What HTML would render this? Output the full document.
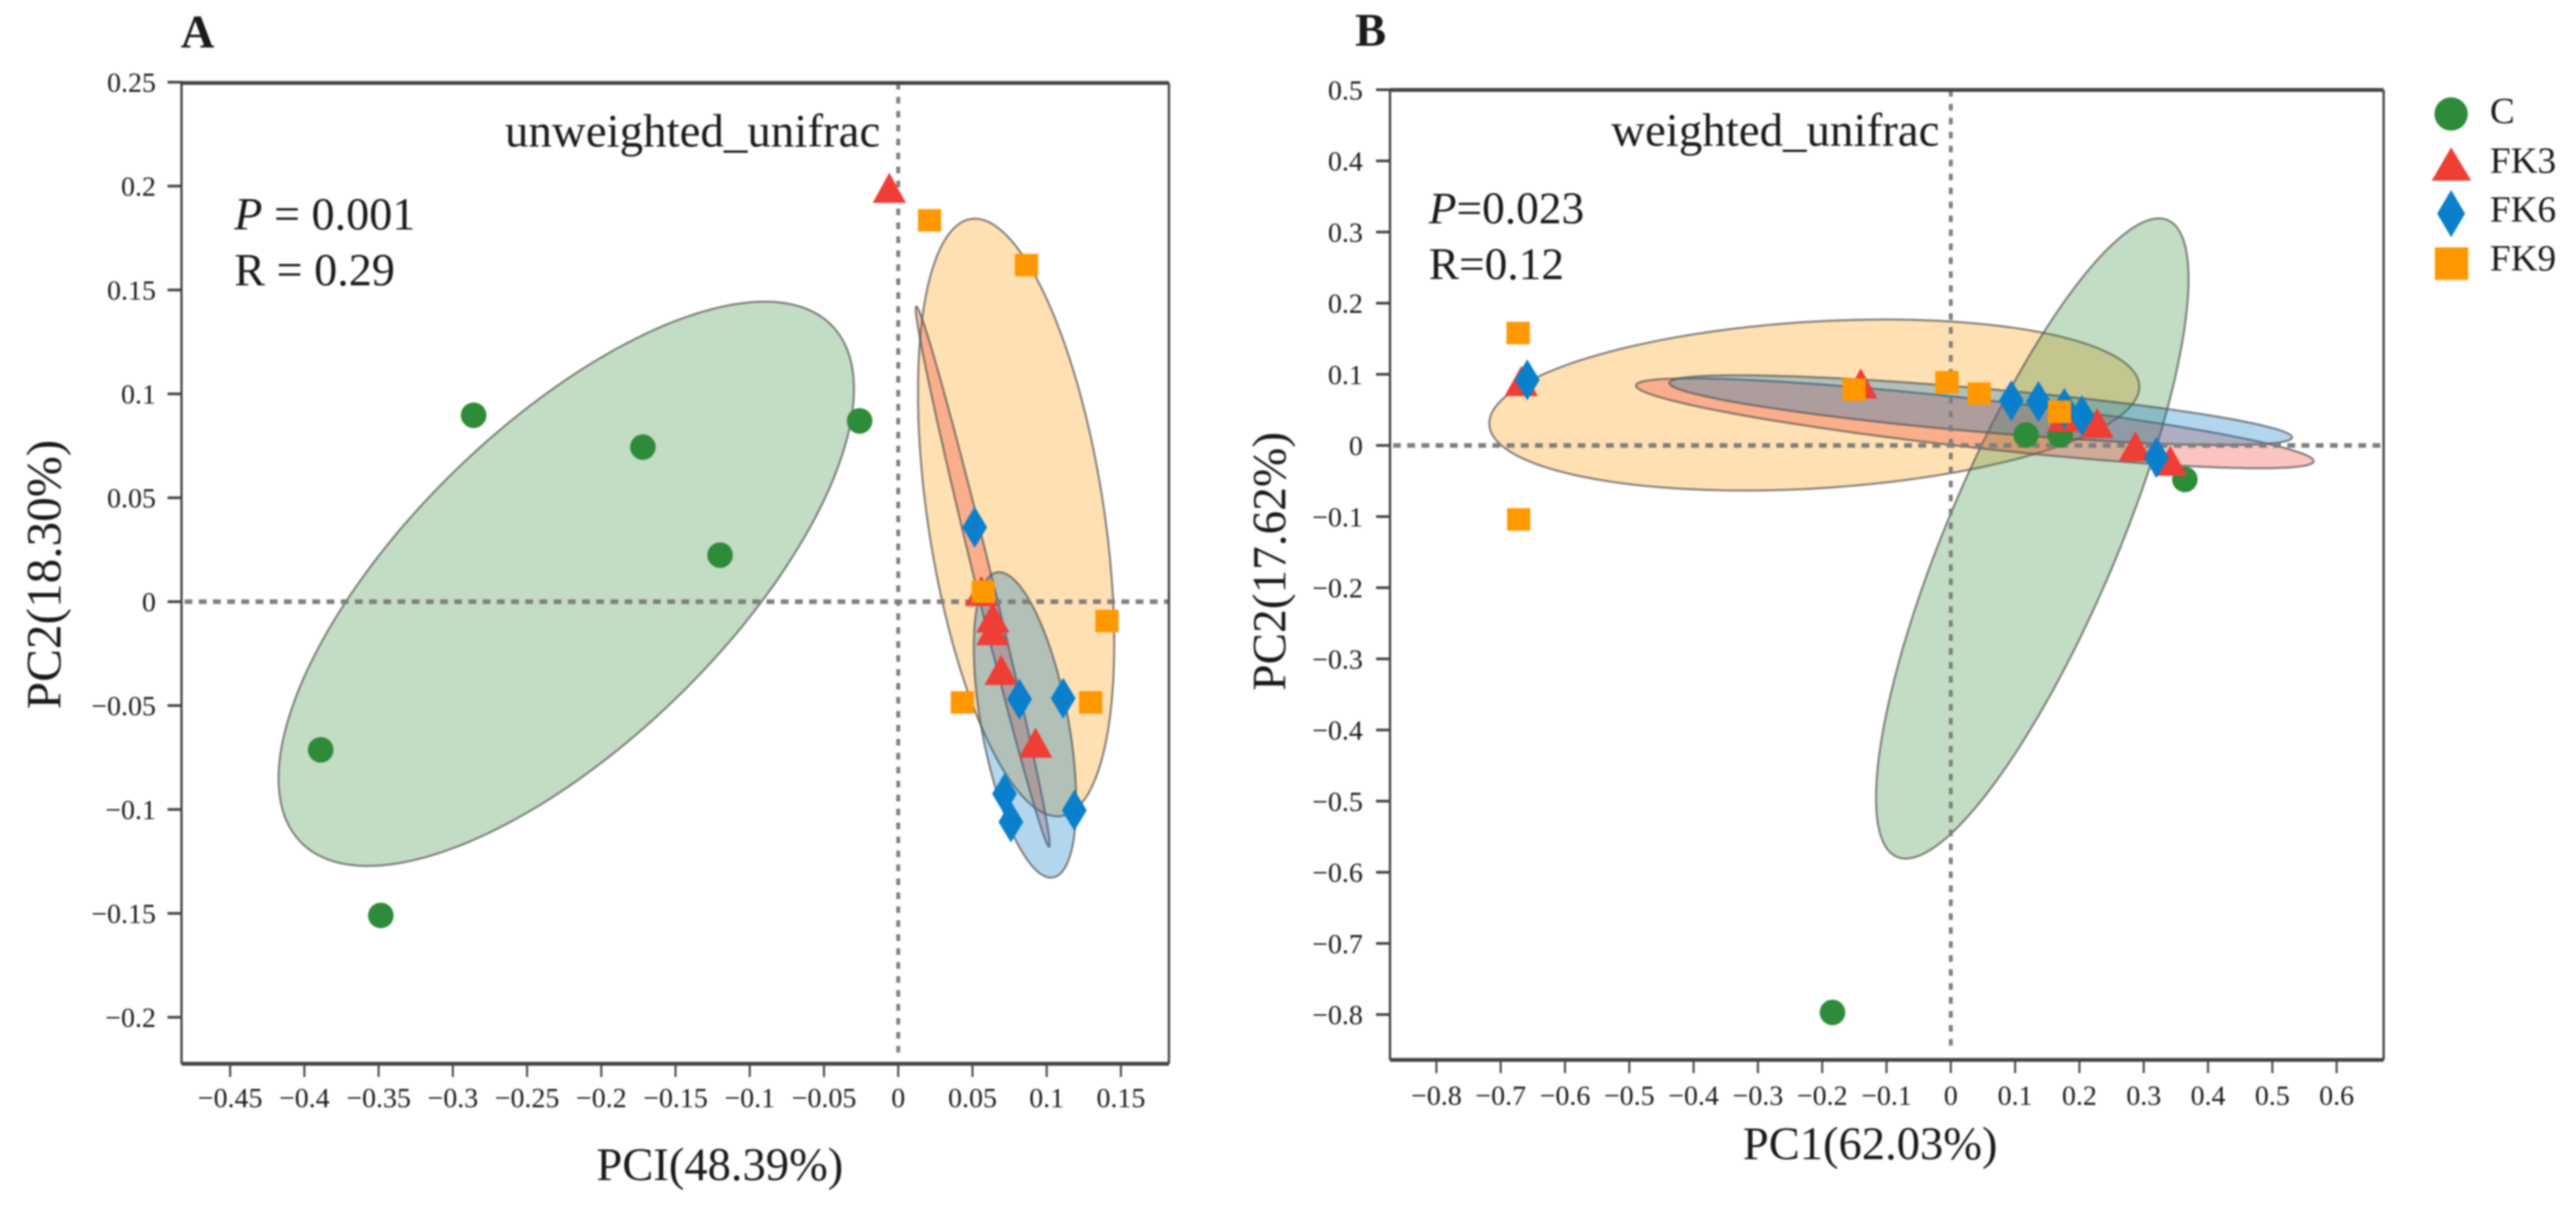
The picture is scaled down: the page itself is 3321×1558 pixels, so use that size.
<!DOCTYPE html>
<html lang="en">
<head>
<meta charset="utf-8">
<title>PCoA plots</title>
<style>
html,body{margin:0;padding:0;background:#fff;width:3321px;height:1558px;overflow:hidden}
svg{display:block;filter:blur(1.1px)}
text{font-family:"Liberation Serif",serif;fill:#1a1a1a}
</style>
</head>
<body>
<svg id="chart" xmlns="http://www.w3.org/2000/svg" width="3321" height="1558" viewBox="0 0 3321 1558">
  <rect width="3321" height="1558" fill="#fff"/>
  <g id="panelA"></g>
  <g id="panelB"></g>

  <text x="233" y="61" font-size="60" font-weight="bold">A</text>
  <text x="1747" y="59" font-size="60" font-weight="bold">B</text>

  <text x="651" y="189" font-size="60.5">unweighted_unifrac</text>
  <text x="2077" y="188" font-size="60.5">weighted_unifrac</text>

  <text x="302" y="296" font-size="59.5"><tspan font-style="italic">P</tspan> = 0.001</text>
  <text x="302" y="368" font-size="59.5">R = 0.29</text>
  <text x="1842" y="288" font-size="58.5"><tspan font-style="italic">P</tspan>=0.023</text>
  <text x="1842" y="360" font-size="58.5">R=0.12</text>

  <text x="928" y="1522" font-size="60" text-anchor="middle">PCI(48.39%)</text>
  <text x="2411" y="1495" font-size="60" text-anchor="middle">PC1(62.03%)</text>
  <text transform="translate(78 741) rotate(-90)" font-size="63.5" text-anchor="middle">PC2(18.30%)</text>
  <text transform="translate(1657 724) rotate(-90)" font-size="61" text-anchor="middle">PC2(17.62%)</text>

  <g>
    <g>
      <circle cx="3160" cy="147" r="21.5" fill="#2e8b3a"/>
      <text x="3210" y="159" font-size="48">C</text>
    </g>
    <g>
      <polygon points="3160,190 3186,233 3135,233" fill="#ee3e36"/>
      <text x="3210" y="223" font-size="48">FK3</text>
    </g>
    <g>
      <polygon points="3160,245 3178,275.5 3160,306 3142,275.5" fill="#0a7fcb"/>
      <text x="3210" y="286" font-size="48">FK6</text>
    </g>
    <g>
      <rect x="3139" y="319" width="43" height="42" fill="#ff9800"/>
      <text x="3210" y="349" font-size="48">FK9</text>
    </g>
  </g>
</svg>

<script>
// ---------- Panel A data ----------
const aXTicks = [-0.45,-0.4,-0.35,-0.3,-0.25,-0.2,-0.15,-0.1,-0.05,0,0.05,0.1,0.15];
const aXTickLabels = ["−0.45","−0.4","−0.35","−0.3","−0.25","−0.2","−0.15","−0.1","−0.05","0","0.05","0.1","0.15"];
const aYTicks = [0.25,0.2,0.15,0.1,0.05,0,-0.05,-0.1,-0.15,-0.2];
const aYTickLabels = ["0.25","0.2","0.15","0.1","0.05","0","−0.05","−0.1","−0.15","−0.2"];

const aCX = [-0.286,-0.172,-0.120,-0.026,-0.389,-0.3485];
const aCY = [0.0897,0.0744,0.0224,0.087,-0.0713,-0.151];
const aFK3X = [-0.006,0.056,0.0637,0.0637,0.0693,0.0925];
const aFK3Y = [0.199,0.005,-0.0078,-0.0139,-0.033,-0.068];
const aFK6X = [0.0515,0.0817,0.1111,0.0716,0.0759,0.1186];
const aFK6Y = [0.0358,-0.0469,-0.0465,-0.0925,-0.106,-0.1004];
const aFK9X = [0.0211,0.0864,0.0573,0.1406,0.0432,0.1296];
const aFK9Y = [0.1835,0.162,0.0048,-0.0093,-0.0485,-0.0485];

// ellipse values: centre x, centre y, half-width, half-height, correlation
const aEllipseC = [-0.2236,0.0086,0.1938,0.1358,0.69];
const aEllipseFK3 = [0.0569,0.0121,0.0451,0.13,-0.991];
const aEllipseFK6 = [0.0854,-0.0593,0.0345,0.0735,-0.507];
const aEllipseFK9 = [0.0794,0.0405,0.0661,0.1438,-0.42];

// ---------- Panel B data ----------
const bXTicks = [-0.8,-0.7,-0.6,-0.5,-0.4,-0.3,-0.2,-0.1,0,0.1,0.2,0.3,0.4,0.5,0.6];
const bXTickLabels = ["−0.8","−0.7","−0.6","−0.5","−0.4","−0.3","−0.2","−0.1","0","0.1","0.2","0.3","0.4","0.5","0.6"];
const bYTicks = [0.5,0.4,0.3,0.2,0.1,0,-0.1,-0.2,-0.3,-0.4,-0.5,-0.6,-0.7,-0.8];
const bYTickLabels = ["0.5","0.4","0.3","0.2","0.1","0","−0.1","−0.2","−0.3","−0.4","−0.5","−0.6","−0.7","−0.8"];

const bCX = [0.117,0.170,0.364,-0.184];
const bCY = [0.0147,0.0147,-0.0478,-0.797];
const bFK3X = [-0.668,-0.14,0.176,0.2274,0.287,0.3414];
const bFK3Y = [0.09,0.0866,0.04,0.031,-0.0016,-0.022];
const bFK6X = [-0.6587,0.0941,0.1363,0.1766,0.2039,0.3197];
const bFK6Y = [0.0921,0.063,0.0616,0.052,0.042,-0.0169];
const bFK9X = [-0.6729,-0.672,-0.1505,-0.006,0.0441,0.1689];
const bFK9Y = [0.158,-0.104,0.0785,0.0888,0.0728,0.0474];

const bEllipseC = [0.1267,-0.1308,0.243,0.45,0.81];
const bEllipseFK3 = [0.0374,0.0311,0.527,0.0632,-0.84];
const bEllipseFK6 = [0.0464,0.0496,0.4843,0.049,-0.78];
const bEllipseFK9 = [-0.2123,0.0568,0.5054,0.1202,0.215];

// ---------- Drawing ----------
const NS = 'http://www.w3.org/2000/svg';
const COLORS = {c:'#2e8b3a', fk3:'#ee3e36', fk6:'#0a7fcb', fk9:'#ff9800'};
const FILLS = {c:'rgba(55,138,60,.3)', fk3:'rgba(240,60,50,.3)', fk6:'rgba(0,120,200,.3)', fk9:'rgba(255,152,0,.3)'};

function mk(parent, tag, attrs){
  const el = document.createElementNS(NS, tag);
  for (const k in attrs) el.setAttribute(k, attrs[k]);
  parent.appendChild(el);
  return el;
}

function drawEllipse(g, prefix, key, e, sx, sy){
  const phi = Math.acos(e[4]);
  let d = '';
  for (let i = 0; i < 180; i++){
    const t = i / 180 * 2 * Math.PI;
    const vx = e[0] + e[2] * Math.cos(t);
    const vy = e[1] + e[3] * Math.cos(t - phi);
    d += (i ? 'L' : 'M') + sx(vx).toFixed(1) + ' ' + sy(vy).toFixed(1);
  }
  const el = mk(g, 'path', {d: d + 'Z', fill: FILLS[key], stroke: 'rgba(85,85,85,.72)', 'stroke-width': 2.6});
  
  
}

function drawMarkers(g, prefix, key, xs, ys, sx, sy){
  xs.forEach(function(v, i){
    const px = sx(v), py = sy(ys[i]);
    let el;
    if (key === 'c') {
      el = mk(g, 'circle', {cx: px, cy: py, r: 16.5, fill: COLORS[key]});
    } else if (key === 'fk3') {
      el = mk(g, 'polygon', {points: px + ',' + (py - 20) + ' ' + (px + 21.5) + ',' + (py + 19) + ' ' + (px - 21.5) + ',' + (py + 19), fill: COLORS[key]});
    } else if (key === 'fk6') {
      el = mk(g, 'polygon', {points: px + ',' + (py - 26.5) + ' ' + (px + 16) + ',' + py + ' ' + px + ',' + (py + 26.5) + ' ' + (px - 16) + ',' + py, fill: COLORS[key]});
    } else {
      el = mk(g, 'rect', {x: px - 15, y: py - 14.5, width: 30, height: 29, fill: COLORS[key]});
    }
    
    
  });
}

function drawPanel(cfg){
  const g = document.getElementById(cfg.id);
  const p = cfg.prefix;
  const sx = function(v){ return cfg.x0 + v * cfg.xs; };
  const sy = function(v){ return cfg.y0 - v * cfg.ys; };

  cfg.ellipses.forEach(function(item){ drawEllipse(g, p, item[0], item[1], sx, sy); });

  const h = mk(g, 'line', {x1: cfg.left + 4, x2: cfg.right, y1: sy(0), y2: sy(0), stroke: '#7f7f7f', 'stroke-width': 6, 'stroke-dasharray': '10 8.3'});
  
  
  const v = mk(g, 'line', {x1: sx(0), x2: sx(0), y1: cfg.top, y2: cfg.bottom - 9, stroke: '#7f7f7f', 'stroke-width': 5, 'stroke-dasharray': '8.5 9.5'});
  
  

  const edges = [
    ['top', cfg.left, cfg.top, cfg.right, cfg.top, 5],
    ['bottom', cfg.left, cfg.bottom, cfg.right, cfg.bottom, 5],
    ['left', cfg.left, cfg.top, cfg.left, cfg.bottom, 3],
    ['right', cfg.right, cfg.top, cfg.right, cfg.bottom, 3]
  ];
  edges.forEach(function(e){
    const l = mk(g, 'line', {x1: e[1], y1: e[2], x2: e[3], y2: e[4], stroke: '#444', 'stroke-width': e[5]});
    
    
  });

  cfg.xTicks.forEach(function(val, i){
    const tick = mk(g, 'line', {x1: sx(val), x2: sx(val), y1: cfg.bottom, y2: cfg.bottom + 17, stroke: '#444', 'stroke-width': 2.6});
    
    
    const t = mk(g, 'text', {x: sx(val), y: cfg.xLabelY, 'font-size': 36, 'text-anchor': 'middle'});
    t.textContent = cfg.xLabels[i];
    
    
  });
  cfg.yTicks.forEach(function(val, i){
    const tick = mk(g, 'line', {x1: cfg.left - 18, x2: cfg.left, y1: sy(val), y2: sy(val), stroke: '#444', 'stroke-width': 3.4});
    
    
    const t = mk(g, 'text', {x: cfg.yLabelX, y: sy(val) + 12.5, 'font-size': 36, 'text-anchor': 'end'});
    t.textContent = cfg.yLabels[i];
    
    
  });

  cfg.points.forEach(function(item){ drawMarkers(g, p, item[0], item[1], item[2], sx, sy); });
}

drawPanel({
  id: 'panelA', prefix: 'panel-a',
  x0: 1158, xs: 1914, y0: 776, ys: 2680,
  left: 234, right: 1507, top: 107, bottom: 1372,
  xTicks: aXTicks, xLabels: aXTickLabels, yTicks: aYTicks, yLabels: aYTickLabels,
  xLabelY: 1428, yLabelX: 201,
  ellipses: [['fk9', aEllipseFK9], ['c', aEllipseC], ['fk3', aEllipseFK3], ['fk6', aEllipseFK6]],
  points: [['c', aCX, aCY], ['fk3', aFK3X, aFK3Y], ['fk6', aFK6X, aFK6Y], ['fk9', aFK9X, aFK9Y]]
});

drawPanel({
  id: 'panelB', prefix: 'panel-b',
  x0: 2515, xs: 829, y0: 574.5, ys: 917.5,
  left: 1792, right: 3073, top: 116, bottom: 1367,
  xTicks: bXTicks, xLabels: bXTickLabels, yTicks: bYTicks, yLabels: bYTickLabels,
  xLabelY: 1425, yLabelX: 1757,
  ellipses: [['fk9', bEllipseFK9], ['c', bEllipseC], ['fk3', bEllipseFK3], ['fk6', bEllipseFK6]],
  points: [['c', bCX, bCY], ['fk3', bFK3X, bFK3Y], ['fk6', bFK6X, bFK6Y], ['fk9', bFK9X, bFK9Y]]
});
</script>
</body>
</html>
